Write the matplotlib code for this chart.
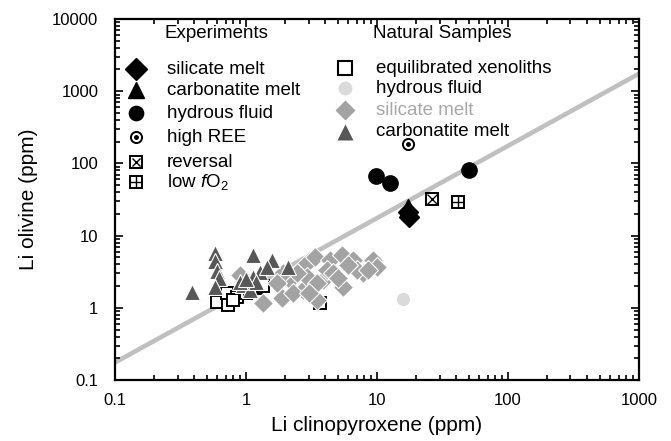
import numpy as np
import matplotlib
matplotlib.use("Agg")
import matplotlib.pyplot as plt

plt.rcParams['font.family'] = ['Liberation Sans', 'DejaVu Sans']
plt.rcParams['mathtext.fontset'] = 'custom'
plt.rcParams['mathtext.rm'] = 'Liberation Sans'
plt.rcParams['mathtext.it'] = 'Liberation Sans:italic'

# --- experiments ---
exp_sil_x = [17.3, 17.5]
exp_sil_y = [21.0, 18.3]
exp_carb_x = [17.3]
exp_carb_y = [25.0]
exp_fluid_x = [9.8, 12.6, 50.4]
exp_fluid_y = [66.8, 53.6, 81.0]
exp_ree_x = [17.1]
exp_ree_y = [184.0]
exp_rev_x = [26.2]
exp_rev_y = [32.1]
exp_lowfo2_x = [41.8]
exp_lowfo2_y = [29.2]

# --- natural samples ---
nat_xeno_x = [0.6, 0.73, 0.71, 0.85, 1.0, 1.07, 0.8, 1.2, 1.35, 3.67]
nat_xeno_y = [1.22, 1.09, 1.6, 1.43, 1.6, 1.77, 1.3, 1.9, 2.0, 1.17]
nat_fluid_x = [15.7]
nat_fluid_y = [1.32]
nat_sil_x = [0.9, 1.36, 1.87, 2.74, 3.47, 2.17, 2.9, 3.37, 4.38, 5.37, 6.6, 9.4,
             9.96, 7.85, 5.53, 3.89, 2.9, 4.13, 2.44, 3.47, 7.0, 4.64, 1.93,
             1.71, 2.3, 5.0, 6.0, 8.5, 3.0]
nat_sil_y = [2.85, 1.15, 1.35, 1.77, 1.28, 2.43, 4.13, 5.1, 4.6, 5.39, 4.6, 4.6,
             3.71, 3.0, 1.96, 2.43, 2.7, 3.34, 3.0, 2.2, 3.34, 3.0, 3.0,
             2.2, 1.6, 2.6, 3.9, 3.3, 1.6]
nat_carb_x = [0.385, 0.58, 0.58, 0.6, 0.62, 0.58, 1.14, 1.57, 2.10, 1.28, 1.14,
              0.95, 1.07, 1.44, 0.9, 1.2, 1.0]
nat_carb_y = [1.67, 5.8, 4.4, 3.2, 2.6, 1.95, 5.39, 4.59, 3.71, 3.16, 2.70,
              2.07, 1.76, 3.71, 2.3, 2.3, 2.5]

# partition line D = 1.75
line_x = [0.1, 1000]
line_d = 1.75

fig = plt.figure(figsize=(6.71, 4.41), dpi=100)
ax = fig.add_axes([0.1714, 0.1383, 0.7809, 0.8186])

ax.plot(line_x, [v * line_d for v in line_x], color='#c0c0c0', lw=3.3, zorder=1,
        solid_capstyle='butt')

ax.plot(nat_xeno_x, nat_xeno_y, 's', ms=9, mfc='white', mec='black', mew=1.4,
        ls='none', zorder=2)
ax.plot(nat_sil_x, nat_sil_y, 'D', ms=10.5, mfc='#a3a3a3', mec='white', mew=0.8,
        ls='none', zorder=3)
ax.plot(nat_carb_x, nat_carb_y, '^', ms=11, mfc='#575757', mec='white', mew=0.8,
        ls='none', zorder=4)
ax.plot(nat_fluid_x, nat_fluid_y, 'o', ms=9.5, mfc='#dadada', mec='none',
        ls='none', zorder=4)

ax.plot(exp_carb_x, exp_carb_y, '^', ms=11, color='black', ls='none', zorder=5)
ax.plot(exp_sil_x, exp_sil_y, 'D', ms=10.5, color='black', ls='none', zorder=5)
ax.plot(exp_fluid_x, exp_fluid_y, 'o', ms=11, color='black', ls='none', zorder=5)
ax.plot(exp_ree_x, exp_ree_y, 'o', ms=8, mfc='white', mec='black', mew=1.4,
        ls='none', zorder=5)
ax.plot(exp_ree_x, exp_ree_y, 'o', ms=2.5, color='black', ls='none', zorder=6)
ax.plot(exp_rev_x, exp_rev_y, 's', ms=9, mfc='white', mec='black', mew=1.4,
        ls='none', zorder=5)
ax.plot(exp_rev_x, exp_rev_y, 'x', ms=6.5, color='black', mew=1.0, ls='none', zorder=6)
ax.plot(exp_lowfo2_x, exp_lowfo2_y, 's', ms=9, mfc='white', mec='black', mew=1.4,
        ls='none', zorder=5)
ax.plot(exp_lowfo2_x, exp_lowfo2_y, '+', ms=9, color='black', mew=1.0, ls='none',
        zorder=6)

ax.set_xscale('log')
ax.set_yscale('log')
ax.set_xlim(0.1, 1000)
ax.set_ylim(0.1, 10000)
ax.set_xticks([0.1, 1, 10, 100, 1000])
ax.set_xticklabels(['0.1', '1', '10', '100', '1000'])
ax.set_yticks([0.1, 1, 10, 100, 1000, 10000])
ax.set_yticklabels(['0.1', '1', '10', '100', '1000', '10000'])
ax.tick_params(which='both', direction='in', top=True, right=True, labelsize=12,
               width=1.2)
ax.tick_params(which='major', length=6)
ax.tick_params(which='minor', length=3.5)
ax.tick_params(axis='x', which='major', pad=9)
ax.tick_params(axis='y', which='major', pad=12)
for s in ax.spines.values():
    s.set_linewidth(1.6)

ax.set_xlabel('Li clinopyroxene (ppm)', fontsize=15, labelpad=6)
ax.set_ylabel('Li olivine (ppm)', fontsize=15, labelpad=10)

# legend, experiments
tr = ax.transAxes
ax.text(0.095, 0.961, 'Experiments', transform=tr, fontsize=13.5, va='center')
exp_rows = [0.8615, 0.8033, 0.7396, 0.6731, 0.6039, 0.5485]
exp_labels = ['silicate melt', 'carbonatite melt', 'hydrous fluid', 'high REE',
              'reversal', r'low $f$O$_2$']
kw = dict(transform=tr, clip_on=False, ls='none')
ax.plot(0.041, exp_rows[0], 'D', ms=11.5, color='black', **kw)
ax.plot(0.041, exp_rows[1], '^', ms=12, color='black', **kw)
ax.plot(0.041, exp_rows[2], 'o', ms=10.3, color='black', **kw)
ax.plot(0.041, exp_rows[3], 'o', ms=8, mfc='white', mec='black', mew=1.4, **kw)
ax.plot(0.041, exp_rows[3], 'o', ms=2.5, color='black', **kw)
ax.plot(0.041, exp_rows[4], 's', ms=8.5, mfc='white', mec='black', mew=1.4, **kw)
ax.plot(0.041, exp_rows[4], 'x', ms=6, color='black', mew=1.0, **kw)
ax.plot(0.041, exp_rows[5], 's', ms=8.5, mfc='white', mec='black', mew=1.4, **kw)
ax.plot(0.041, exp_rows[5], '+', ms=8.5, color='black', mew=1.0, **kw)
for yy, lab in zip(exp_rows, exp_labels):
    ax.text(0.099, yy, lab, transform=tr, fontsize=13.5, va='center')

# legend, natural samples
ax.text(0.493, 0.961, 'Natural Samples', transform=tr, fontsize=13.5, va='center')
nat_rows = [0.8634, 0.8080, 0.7479, 0.6878]
nat_labels = ['equilibrated xenoliths', 'hydrous fluid', 'silicate melt',
              'carbonatite melt']
nat_colors = ['black', 'black', '#a8a8a8', 'black']
ax.plot(0.439, nat_rows[0], 's', ms=9.5, mfc='white', mec='black', mew=1.5, **kw)
ax.plot(0.439, nat_rows[1], 'o', ms=10, mfc='#dadada', mec='none', **kw)
ax.plot(0.439, nat_rows[2], 'D', ms=10.5, mfc='#a3a3a3', mec='none', **kw)
ax.plot(0.439, nat_rows[3], '^', ms=11.5, mfc='#575757', mec='none', **kw)
for yy, lab, c in zip(nat_rows, nat_labels, nat_colors):
    ax.text(0.498, yy, lab, transform=tr, fontsize=13.5, va='center', color=c)

fig.savefig('out.png', dpi=100)
